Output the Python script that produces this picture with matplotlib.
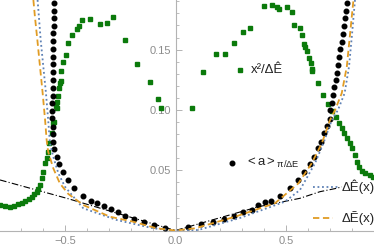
import numpy as np
import matplotlib
matplotlib.use("Agg")
import matplotlib.pyplot as plt
from matplotlib.ticker import FixedLocator

plt.rcParams['font.family'] = ['Liberation Sans', 'DejaVu Sans']
plt.rcParams['mathtext.fontset'] = 'custom'
plt.rcParams['mathtext.rm'] = 'Liberation Sans'
plt.rcParams['mathtext.it'] = 'Liberation Sans:italic'

# ---- data: <a>_{pi/dE} (black dots) ----
a_x = [-0.550, -0.550, -0.550, -0.550, -0.553, -0.553, -0.553, -0.553, -0.556, -0.556,
       -0.556, -0.556, -0.556, -0.560, -0.560, -0.560, -0.556, -0.553, -0.553, -0.548,
       -0.538, -0.527, -0.511, -0.488, -0.460, -0.417, -0.382, -0.354, -0.324, -0.292,
       -0.260, -0.229, -0.188, -0.143, -0.097, -0.048,
       0.058, 0.115, 0.168, 0.221, 0.265, 0.304, 0.345, 0.375, 0.405, 0.431, 0.473,
       0.518, 0.553, 0.583, 0.609, 0.628, 0.646, 0.658, 0.671, 0.684, 0.697, 0.699,
       0.707, 0.711, 0.719, 0.726, 0.731, 0.737, 0.741, 0.746, 0.752, 0.757, 0.762,
       0.767, 0.770, 0.775]
a_y = [0.1889, 0.1823, 0.1760, 0.1696, 0.1635, 0.1569, 0.1505, 0.1441, 0.1378, 0.1314,
       0.1248, 0.1184, 0.1118, 0.1055, 0.0991, 0.0930, 0.0861, 0.0800, 0.0736, 0.0673,
       0.0612, 0.0549, 0.0488, 0.0419, 0.0355, 0.0289, 0.0245, 0.0226, 0.0203, 0.0176,
       0.0153, 0.0123, 0.0093, 0.0073, 0.0046, 0.0023,
       0.0027, 0.0051, 0.0073, 0.0095, 0.0120, 0.0153, 0.0170, 0.0211, 0.0239, 0.0245,
       0.0286, 0.0355, 0.0419, 0.0488, 0.0549, 0.0612, 0.0682, 0.0736, 0.0806, 0.0867,
       0.0923, 0.0999, 0.1060, 0.1124, 0.1187, 0.1248, 0.1308, 0.1372, 0.1441, 0.1502,
       0.1566, 0.1629, 0.1698, 0.1760, 0.1823, 0.1889]

# ---- data: x^2/dE (green squares) ----
g_x = [-0.794, -0.771, -0.749, -0.731, -0.711, -0.695, -0.681, -0.665, -0.651, -0.638,
       -0.628, -0.620, -0.613, -0.605, -0.598, -0.591, -0.583, -0.578, -0.571, -0.560,
       -0.553, -0.550, -0.541, -0.538, -0.535, -0.530, -0.526, -0.523, -0.519, -0.517,
       -0.508, -0.494, -0.486, -0.468, -0.444, -0.437, -0.422, -0.386, -0.340, -0.311,
       -0.281, -0.230, -0.176, -0.117, -0.078, -0.066,
       0.076, 0.124, 0.183, 0.224, 0.266, 0.305, 0.338, 0.399, 0.437, 0.459, 0.470,
       0.503, 0.527, 0.538, 0.562, 0.574, 0.583, 0.586, 0.596, 0.604, 0.613, 0.618,
       0.619, 0.646, 0.667, 0.691, 0.708, 0.725, 0.741, 0.752, 0.762, 0.775, 0.790,
       0.800, 0.812, 0.823, 0.832, 0.843, 0.857, 0.880, 0.895]
g_y = [0.0211, 0.0201, 0.0197, 0.0206, 0.0220, 0.0232, 0.0247, 0.0264, 0.0280, 0.0300,
       0.0322, 0.0348, 0.0377, 0.0433, 0.0488, 0.0557, 0.0604, 0.0653, 0.0723, 0.0806,
       0.0889, 0.0902, 0.1032, 0.1013, 0.1068, 0.1118, 0.1179, 0.1221, 0.1240, 0.1323,
       0.1397, 0.1455, 0.1557, 0.1621, 0.1671, 0.1698, 0.1745, 0.1751, 0.1710, 0.1723,
       0.1768, 0.1580, 0.1378, 0.1231, 0.1090, 0.1018,
       0.1013, 0.1314, 0.1461, 0.1461, 0.1557, 0.1646, 0.1679, 0.1859, 0.1867, 0.1851,
       0.1834, 0.1853, 0.1809, 0.1706, 0.1679, 0.1619, 0.1546, 0.1519, 0.1488, 0.1430,
       0.1386, 0.1342, 0.1325, 0.1223, 0.1124, 0.1051, 0.0991, 0.0939, 0.0889, 0.0847,
       0.0806, 0.0765, 0.0723, 0.0684, 0.0626, 0.0570, 0.0529, 0.0493, 0.0474, 0.0460,
       0.0444]

# ---- data: dE_hat(x) (blue dotted) ----
b_x = [-0.624, -0.618, -0.610, -0.598, -0.586, -0.576, -0.568, -0.553, -0.530, -0.500,
       -0.462, -0.417, -0.266, -0.100, 0.0, 0.103, 0.292, 0.495, 0.563, 0.631, 0.669,
       0.707, 0.735, 0.765, 0.785, 0.799, 0.812]
b_y = [0.1911, 0.1773, 0.1580, 0.1358, 0.1138, 0.0916, 0.0723, 0.0612, 0.0474, 0.0363,
       0.0280, 0.0184, 0.0087, 0.0018, 0.0, 0.0004, 0.0104, 0.0239, 0.0336, 0.0557,
       0.0723, 0.0916, 0.0999, 0.1138, 0.1358, 0.1635, 0.1911]

# ---- data: dE_tilde(x) (orange dashed) ----
o_x = [-0.643, -0.636, -0.625, -0.613, -0.601, -0.590, -0.583, -0.576, -0.553, -0.523,
       -0.485, -0.417, -0.296, -0.191, -0.085, 0.0, 0.088, 0.269, 0.450, 0.556, 0.616,
       0.662, 0.699, 0.722, 0.752, 0.775, 0.790, 0.805]
o_y = [0.1911, 0.1773, 0.1580, 0.1358, 0.1138, 0.0916, 0.0750, 0.0653, 0.0516, 0.0390,
       0.0303, 0.0211, 0.0114, 0.0073, 0.0018, 0.0, 0.0018, 0.0114, 0.0226, 0.0391,
       0.0557, 0.0723, 0.0916, 0.0999, 0.1138, 0.1358, 0.1635, 0.1911]

# ---- data: black dash-dot reference line ----
d_x = [-0.794, -0.492, 0.0, 0.375, 0.563, 0.654, 0.729, 0.752]
d_y = [0.0419, 0.0267, 0.0, 0.0197, 0.0267, 0.0322, 0.0350, 0.0362]

x_ticks = [-0.5, 0.0, 0.5]
x_ticklabels = ["\u22120.5", "0.0", "0.5"]
y_ticks = [0.05, 0.10, 0.15]
y_ticklabels = ["0.05", "0.10", "0.15"]

BLUE = '#5e81b5'
ORANGE = '#e19c24'
GREEN = '#0b7a0b'
AXC = '#b3b3b3'
TXC = '#8c8c8c'

fig = plt.figure(figsize=(3.74, 2.47), dpi=100)
ax = fig.add_axes([0, 16.5 / 247, 1, 230.5 / 247])
ax.set_xlim(-0.794, 0.898)
ax.set_ylim(0, 0.1911)

ax.plot(d_x, d_y, color='black', lw=0.8, ls=(0, (6, 2, 1, 2)), zorder=2)
ax.plot(g_x, g_y, ls='none', marker='s', ms=3.3, color=GREEN, mec=GREEN, zorder=3)
ax.plot(a_x, a_y, ls='none', marker='o', ms=3.3, color='black', zorder=4)
ax.plot(b_x, b_y, color=BLUE, lw=1.3, ls=(0, (1, 1.5)), zorder=5)
ax.plot(o_x, o_y, color=ORANGE, lw=1.3, ls=(0, (3.5, 2)), zorder=6)

# legend-like labels
ax.plot([0.294], [0.1328], marker='s', ms=3.3, color=GREEN, ls='none')
ax.text(0.340, 0.1328, "x\u00b2/\u0394\u00ca", fontsize=9.5, va='center', ha='left',
        color='#222222')
ax.plot([0.257], [0.0557], marker='o', ms=3.3, color='black', ls='none')
ax.text(0.315, 0.0557, r"$\mathregular{<a>_{\pi/\Delta E}}$", fontsize=9.5,
        va='center', ha='left', color='#222222')
ax.plot([0.622, 0.735], [0.0357, 0.0357], color=BLUE, lw=1.3, ls=(0, (1, 1.5)))
ax.text(0.750, 0.0365, "\u0394\u00ca(x)", fontsize=9.5, va='center', ha='left',
        color='#222222')
ax.plot([0.623, 0.714], [0.0101, 0.0101], color=ORANGE, lw=1.3, ls=(0, (3.5, 2)))
ax.text(0.750, 0.0105, "\u0394\u1ebc(x)", fontsize=9.5, va='center', ha='left',
        color='#222222')

# axes styling (Mathematica-like)
for s in ['top', 'right']:
    ax.spines[s].set_visible(False)
ax.spines['left'].set_position(('data', 0))
ax.spines['bottom'].set_position(('data', 0))
ax.spines['left'].set_color(AXC)
ax.spines['bottom'].set_color(AXC)
ax.spines['left'].set_linewidth(0.8)
ax.spines['bottom'].set_linewidth(0.8)
ax.patch.set_alpha(0)

ax.set_xticks(x_ticks)
ax.set_xticklabels(x_ticklabels)
ax.set_yticks(y_ticks)
ax.set_yticklabels(y_ticklabels)
ax.xaxis.set_minor_locator(FixedLocator([v / 10 for v in range(-7, 9) if v % 5 != 0]))
ax.yaxis.set_minor_locator(FixedLocator([v / 100 for v in range(1, 20) if v % 5 != 0]))
ax.tick_params(which='both', direction='in', color=AXC, labelcolor=TXC, labelsize=8)
ax.tick_params(which='major', length=4, width=0.7)
ax.tick_params(which='minor', length=2.3, width=0.6)
ax.tick_params(axis='x', pad=4)
ax.tick_params(axis='y', pad=3)

fig.savefig("out.png", dpi=100)
